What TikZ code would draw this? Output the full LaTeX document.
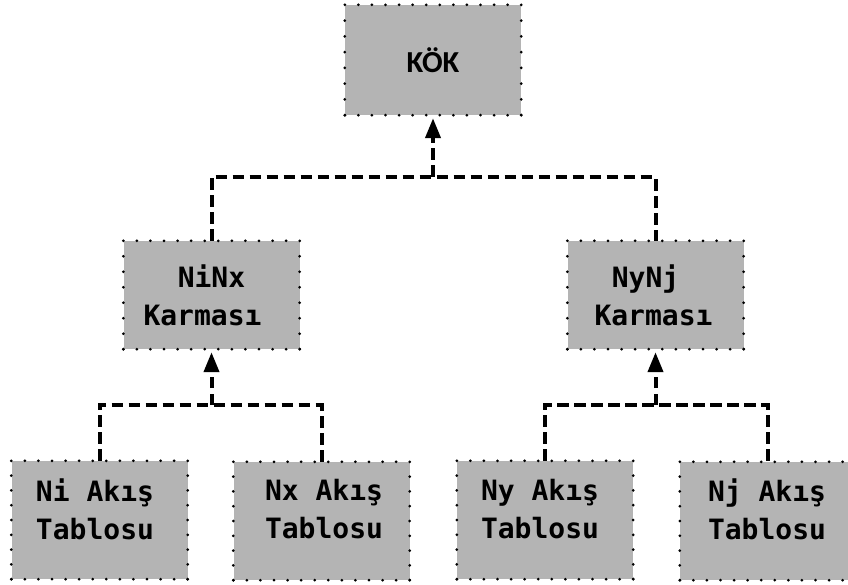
\documentclass[tikz,border=0pt]{standalone}
\usepackage{fontspec}
\setmainfont{Carlito}
\newfontfamily\labelmono{DejaVu Sans Mono}
\usetikzlibrary{arrows.meta,calc}
\definecolor{boxgray}{RGB}{180,180,180}
\tikzset{
  box/.style={fill=boxgray, minimum width=176pt, inner sep=0pt},
  rootbox/.style={box, minimum height=110pt},
  midbox/.style={box, minimum height=108pt},
  leafbox/.style={box, minimum height=118pt},
  lbl/.style={font=\labelmono\bfseries\fontsize{28}{38}\selectfont, align=center, inner sep=0pt},
  rootlbl/.style={font=\bfseries\fontsize{30.5}{36}\selectfont, inner sep=0pt},
  conn/.style={draw=black, line width=4pt, dash pattern=on 11.5pt off 5.5pt},
  up/.style={conn, -{Triangle[length=20pt,width=15pt]}, shorten >=3pt},
  framedot/.style={fill=black},
}
% dotted frame round a node: #1 node, #2 gaps along top/bottom, #3 gaps along sides
\newcommand{\dotframe}[3]{%
  \foreach \k in {0,...,#2} {
    \fill[framedot] ($(#1.north west)!\k/#2!(#1.north east)$) circle[radius=1.5pt];
    \fill[framedot] ($(#1.south west)!\k/#2!(#1.south east)$) circle[radius=1.5pt];
  }
  \foreach \k in {1,...,#3} {
    \fill[framedot] ($(#1.north west)!\k/#3!(#1.south west)$) circle[radius=1.5pt];
    \fill[framedot] ($(#1.north east)!\k/#3!(#1.south east)$) circle[radius=1.5pt];
  }%
}
\begin{document}
\begin{tikzpicture}[x=1pt, y=-1pt]
\useasboundingbox (0,0) rectangle (848,585);

% root
\node[rootbox] (kok) at (433,60) {};
\dotframe{kok}{13}{7}
\node[rootlbl] (kokT) at (kok.center) {KÖK};

% intermediate groups
\node[midbox] (ninx) at (211.5,295) {};
\dotframe{ninx}{13}{7}
\node[lbl] (ninxT) at (ninx.center) {NiNx\\Karması\hspace*{18pt}};
\node[midbox] (nynj) at (655.5,295) {};
\dotframe{nynj}{13}{7}
\node[lbl] (nynjT) at (nynj.center) {NyNj\hspace*{20pt}\\Karması\hspace*{4pt}};

% leaves
\node[leafbox] (ni) at (99.5,520) {};
\dotframe{ni}{13}{8}
\node[lbl] (niT) at (95,509) {Ni Akış\\Tablosu};
\node[leafbox] (nx) at (321.5,521) {};
\dotframe{nx}{13}{8}
\node[lbl] (nxT) at (324,509) {Nx Akış\\Tablosu};
\node[leafbox] (ny) at (545,520) {};
\dotframe{ny}{13}{8}
\node[lbl] (nyT) at (540,509) {Ny Akış\\Tablosu};
\node[leafbox] (nj) at (768,521) {};
\dotframe{nj}{13}{8}
\node[lbl] (njT) at (767,509) {Nj Akış\\Tablosu};

% junction points on the horizontal connectors
\coordinate (jroot) at (433,177);
\coordinate (jninx) at (211.5,405);
\coordinate (jnynj) at (655.5,405);

% connectors
\draw[conn] (ninx.north) |- (jroot) -| (nynj.north);
\draw[up] (jroot) -- (kok.south);

\draw[conn] (ni.north) |- (jninx) -| (nx.north);
\draw[up] (jninx) -- (ninx.south);

\draw[conn] (ny.north) |- (jnynj) -| (nj.north);
\draw[up] (jnynj) -- (nynj.south);
\end{tikzpicture}
\end{document}
